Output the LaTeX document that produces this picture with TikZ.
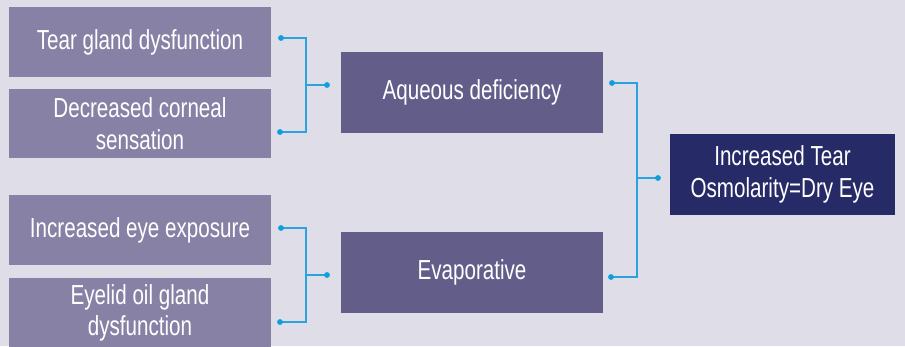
\documentclass[tikz,border=0pt]{standalone}
\usepackage{fontspec}
\setmainfont{Liberation Sans}[FakeStretch=0.75]
\usepackage{tikz}

\definecolor{bgcol}{HTML}{DFDDE8}
\definecolor{causecol}{HTML}{8781A5}
\definecolor{typecol}{HTML}{635D8A}
\definecolor{resultcol}{HTML}{262A66}
\definecolor{linkcol}{HTML}{2AA4DE}
\definecolor{dotcol}{HTML}{0E9EDB}

\tikzset{
  cause/.style={fill=causecol, text=white, inner sep=0pt, minimum width=262pt,
    minimum height=70pt, align=center, font=\fontsize{27.5}{31.5}\selectfont},
  kind/.style={cause, fill=typecol, minimum height=81pt},
  result/.style={cause, fill=resultcol, minimum width=225pt, minimum height=81pt},
  link/.style={linkcol, line width=1.5pt},
  blob/.style={dotcol, radius=2.9pt}
}

\begin{document}
\begin{tikzpicture}[x=1pt,y=-1pt,>=latex]
			%%%	Sfondo
			\fill[bgcol] (0,0) rectangle (905,346);
			\useasboundingbox (0,0) rectangle (905,346);
%			\draw [thin, help lines] (0,0) grid[step=50] (905,346);
			%%%	Cause
			\node[cause] (gland) at (140,42) {Tear gland dysfunction};
			\node[cause, minimum height=69pt] (cornea) at (140,123.5) {Decreased corneal\\sensation};
			\node[cause] (expo) at (140,230) {Increased eye exposure};
			\node[cause] (oil) at (140,313) {Eyelid oil gland\\dysfunction};
			%%%	Tipi
			\node[kind] (aqua) at (472,92.5) {Aqueous deficiency};
			\node[kind] (evap) at (472,272) {Evaporative};
			%%%	Risultato
			\node[result] (dry) at (782.5,174.5) {Increased Tear\\Osmolarity=Dry Eye};
			%%%	Collegamenti
			\coordinate (g1) at (281,38);
			\coordinate (c1) at (280,132);
			\coordinate (j1) at (306,85);
			\coordinate (a1) at (327,85);
			\coordinate (e1) at (281,228);
			\coordinate (o1) at (280,322);
			\coordinate (j2) at (306,275);
			\coordinate (v1) at (327,275);
			\coordinate (a2) at (612,83);
			\coordinate (v2) at (611,277);
			\coordinate (j3) at (637,178);
			\coordinate (d1) at (658,178);
			\draw[link] (g1) -| (j1) |- (c1);
			\draw[link] (j1) -- (a1);
			\draw[link] (e1) -| (j2) |- (o1);
			\draw[link] (j2) -- (v1);
			\draw[link] (a2) -| (j3) |- (v2);
			\draw[link] (j3) -- (d1);
			\foreach \p in {g1,c1,a1,e1,o1,v1,a2,v2,d1}
			\fill[blob] (\p) circle;
		\end{tikzpicture}
\end{document}
